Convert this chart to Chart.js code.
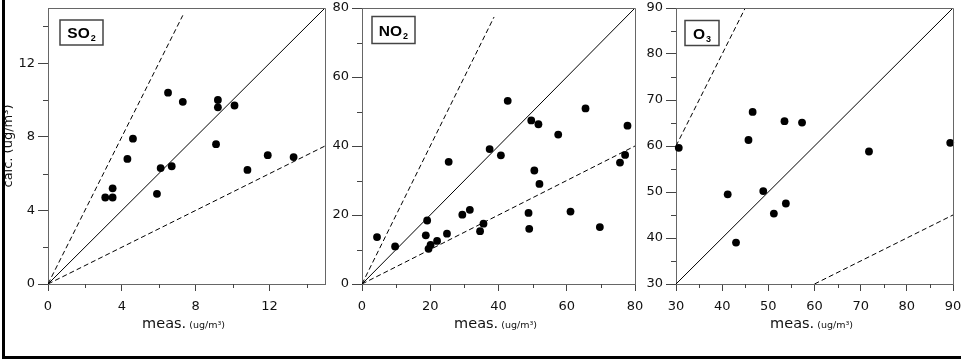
<!DOCTYPE html>
<html>
<head>
<meta charset="utf-8">
<script src="https://cdn.jsdelivr.net/npm/chart.js@4.4.1/dist/chart.umd.min.js"></script>
<style>
  html, body { margin:0; padding:0; background:#fff; }
  #hoja { position:relative; width:961px; height:360px; overflow:hidden; }
  canvas { position:absolute; top:0; }
  #marco { position:absolute; left:2px; top:-10px; width:980px; height:369px; box-sizing:border-box;
           border-left:3px solid #000; border-bottom:3px solid #000; pointer-events:none; }
</style>
</head>
<body>
<div id="hoja">
  <canvas id="plotSO2" width="330" height="340" style="left:0px"></canvas>
  <canvas id="plotNO2" width="322" height="340" style="left:326px"></canvas>
  <canvas id="plotO3" width="321" height="340" style="left:640px"></canvas>
  <div id="marco"></div>
</div>
<script>
// SO2: medido vs calculado (ug/m3)
let so2Meas = [6.5, 7.3, 9.2, 9.2, 10.1, 4.6, 4.3, 9.1, 6.1, 6.7, 10.8, 11.9, 13.3, 3.1, 3.5, 3.5, 5.9];
let so2Calc = [10.4, 9.9, 10.0, 9.6, 9.7, 7.9, 6.8, 7.6, 6.3, 6.4, 6.2, 7.0, 6.9, 4.7, 4.7, 5.2, 4.9];

// NO2
let no2Meas = [42.7, 49.6, 51.7, 65.5, 57.5, 77.8, 37.4, 40.7, 25.4, 50.5, 75.6, 77.1, 52.0, 4.4, 9.7,
               19.1, 18.7, 19.5, 20.1, 22.0, 24.9, 29.4, 31.6, 34.6, 35.6, 48.8, 49.0, 61.1, 69.7];
let no2Calc = [53.1, 47.4, 46.3, 50.9, 43.3, 45.9, 39.1, 37.3, 35.4, 32.9, 35.2, 37.4, 29.0, 13.6, 10.9,
               18.4, 14.1, 10.2, 11.3, 12.5, 14.6, 20.1, 21.5, 15.3, 17.5, 20.6, 16.0, 21.0, 16.5];

// O3
let o3Meas = [30.6, 45.7, 46.6, 53.5, 57.3, 71.8, 89.4, 41.2, 48.9, 53.8, 51.2, 43.0];
let o3Calc = [59.6, 61.3, 67.4, 65.4, 65.1, 58.8, 60.7, 49.5, 50.2, 47.5, 45.3, 39.0];

// lineas de referencia y = factor * x (factor 2, 1:1, factor 0.5)
let factores = [2, 1, 0.5];
let so2LineaDesde = [0, 0, 0];
let so2LineaHasta = [7.3, 15, 15];
let no2LineaDesde = [0, 0, 0];
let no2LineaHasta = [38.7, 80, 80];
let o3LineaDesde = [30, 30, 60];
let o3LineaHasta = [45, 90, 90];

// ejes
let so2Rango = [0, 15];
let no2Rango = [0, 80];
let o3Rango = [30, 90];
let so2Mayores = [0, 4, 8, 12];
let so2Menores = [2, 6, 10, 14];
let no2Mayores = [0, 20, 40, 60, 80];
let no2Menores = [10, 30, 50, 70];
let o3Mayores = [30, 40, 50, 60, 70, 80, 90];
let o3Menores = [35, 45, 55, 65, 75, 85];

let tituloX = ['meas.', '(ug/m³)'];
let tituloY = 'calc. (ug/m³)';

Chart.defaults.font.family = 'DejaVu Sans';

let extrasPanel = {
    id: 'extrasPanel',
    afterDraw(chart, args, opts) {
        let ctx = chart.ctx;
        let area = chart.chartArea;
        let x = chart.scales.x;
        let y = chart.scales.y;
        ctx.save();

        // marco arriba y derecha
        ctx.strokeStyle = '#666';
        ctx.lineWidth = 1;
        ctx.beginPath();
        ctx.moveTo(area.left, Math.round(area.top) + 0.5);
        ctx.lineTo(Math.round(area.right) + 0.5, Math.round(area.top) + 0.5);
        ctx.lineTo(Math.round(area.right) + 0.5, area.bottom);
        ctx.stroke();

        // marcas menores
        ctx.strokeStyle = '#444';
        ctx.beginPath();
        opts.menores.forEach(v => {
            let px = Math.round(x.getPixelForValue(v)) + 0.5;
            ctx.moveTo(px, area.bottom);
            ctx.lineTo(px, area.bottom + 4);
            let py = Math.round(y.getPixelForValue(v)) + 0.5;
            ctx.moveTo(area.left - 5, py);
            ctx.lineTo(area.left, py);
        });
        ctx.stroke();

        // titulo eje x con dos tamaños
        ctx.fillStyle = '#111';
        ctx.textBaseline = 'alphabetic';
        ctx.textAlign = 'left';
        ctx.font = '14.5px "DejaVu Sans"';
        let w1 = ctx.measureText(tituloX[0]).width;
        ctx.font = '9.5px "DejaVu Sans"';
        let w2 = ctx.measureText(tituloX[1]).width;
        let x0 = (area.left + area.right) / 2 - (w1 + 3 + w2) / 2 - 3;
        ctx.font = '14.5px "DejaVu Sans"';
        ctx.fillText(tituloX[0], x0, 328);
        ctx.font = '9.5px "DejaVu Sans"';
        ctx.fillText(tituloX[1], x0 + w1 + 3, 328);

        // caja con el nombre del contaminante
        let e = opts.etiqueta;
        let bx = area.left + e.x;
        let by = area.top + e.y;
        ctx.strokeStyle = '#444';
        ctx.lineWidth = 1.5;
        ctx.strokeRect(bx, by, e.w, e.h);
        ctx.fillStyle = '#000';
        ctx.font = 'bold 15.5px "Liberation Sans"';
        let t1 = ctx.measureText(e.texto).width;
        ctx.font = 'bold 9px "Liberation Sans"';
        let t2 = ctx.measureText(e.sub).width;
        let tx = bx + (e.w - t1 - t2 - 1) / 2;
        let base = by + e.h / 2 + 5.5;
        ctx.font = 'bold 15.5px "Liberation Sans"';
        ctx.fillText(e.texto, tx, base);
        ctx.font = 'bold 9px "Liberation Sans"';
        ctx.fillText(e.sub, tx + t1 + 1, base + 3);
        ctx.restore();
    }
};

let armarLineas = (desde, hasta) => factores.map((f, i) => ({
    type: 'scatter',
    showLine: true,
    data: [{x: desde[i], y: desde[i] * f}, {x: hasta[i], y: hasta[i] * f}],
    borderColor: '#000',
    borderWidth: 1,
    borderDash: f === 1 ? [] : [5, 3],
    pointRadius: 0
}));

let crearPanel = (idCanvas, meas, calc, rango, mayores, menores, desde, hasta, anchoY, padDer, etiqueta, conTitulo) => {
    let puntos = meas.map((m, i) => ({x: m, y: calc[i]}));
    let fuenteTicks = {family: 'DejaVu Sans', size: 13};
    let config = {
        type: 'scatter',
        data: {
            datasets: [
                {
                    data: puntos,
                    backgroundColor: '#000',
                    borderWidth: 0,
                    pointRadius: 3.9,
                    clip: 6
                },
                ...armarLineas(desde, hasta)
            ]
        },
        options: {
            responsive: false,
            animation: false,
            devicePixelRatio: 1,
            events: [],
            layout: {padding: {top: 8, right: padDer, left: 0, bottom: 0}},
            plugins: {
                legend: {display: false},
                tooltip: {enabled: false},
                extrasPanel: {menores: menores, etiqueta: etiqueta}
            },
            scales: {
                x: {
                    type: 'linear',
                    min: rango[0],
                    max: rango[1],
                    afterBuildTicks: s => { s.ticks = mayores.map(v => ({value: v})); },
                    afterFit: s => { s.height = 56; s.paddingLeft = 0; s.paddingRight = 0; },
                    grid: {drawOnChartArea: false, tickLength: 7, tickColor: '#444'},
                    border: {color: '#666'},
                    ticks: {padding: 8, color: '#111', font: fuenteTicks, maxRotation: 0, autoSkip: false}
                },
                y: {
                    type: 'linear',
                    min: rango[0],
                    max: rango[1],
                    afterBuildTicks: s => { s.ticks = mayores.map(v => ({value: v})); },
                    afterFit: s => { s.width = anchoY; s.paddingTop = 0; s.paddingBottom = 0; },
                    grid: {drawOnChartArea: false, tickLength: 10, tickColor: '#444'},
                    border: {color: '#666'},
                    ticks: {padding: 3, color: '#111', font: fuenteTicks, autoSkip: false},
                    title: {
                        display: conTitulo,
                        text: tituloY,
                        color: '#111',
                        font: {family: 'DejaVu Sans', size: 13},
                        padding: {top: 1, bottom: 0}
                    }
                }
            }
        },
        plugins: [extrasPanel]
    };
    return new Chart(document.getElementById(idCanvas), config);
};

crearPanel('plotSO2', so2Meas, so2Calc, so2Rango, so2Mayores, so2Menores, so2LineaDesde, so2LineaHasta,
    48, 5, {texto: 'SO', sub: '2', x: 12, y: 12, w: 43, h: 25}, true);
crearPanel('plotNO2', no2Meas, no2Calc, no2Rango, no2Mayores, no2Menores, no2LineaDesde, no2LineaHasta,
    36, 13, {texto: 'NO', sub: '2', x: 10, y: 8.5, w: 43, h: 27}, false);
crearPanel('plotO3', o3Meas, o3Calc, o3Rango, o3Mayores, o3Menores, o3LineaDesde, o3LineaHasta,
    36, 8, {texto: 'O', sub: '3', x: 9, y: 12.5, w: 34, h: 25}, false);
</script>
</body>
</html>
